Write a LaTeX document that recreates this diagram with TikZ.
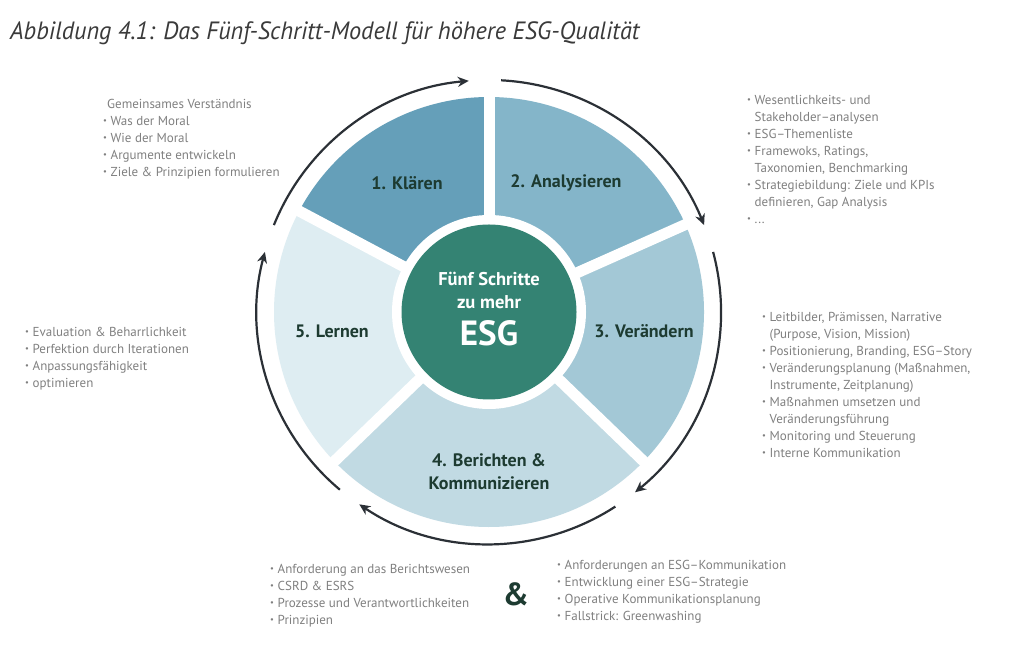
\documentclass[tikz,border=0pt]{standalone}
\usepackage{graphicx}
\usepackage{fontspec}
\setmainfont{PT Sans}
\usetikzlibrary{arrows.meta}
\definecolor{klcol}{HTML}{659FB9}
\definecolor{ancol}{HTML}{84B5C9}
\definecolor{vecol}{HTML}{A3C8D6}
\definecolor{becol}{HTML}{C1DAE3}
\definecolor{lecol}{HTML}{DEEDF2}
\definecolor{hubgreen}{HTML}{348373}
\definecolor{labelgreen}{HTML}{1D3B31}
\definecolor{listgray}{HTML}{808080}
\definecolor{titlegray}{HTML}{3A3A3A}
\definecolor{arrowdark}{HTML}{2B3036}
\newcommand\bpt{\makebox[7.5pt][l]{\fontsize{8.5}{8.5}\selectfont\raisebox{1.6pt}{•}}}
\newcommand\bin{\hspace*{7.5pt}}
\tikzset{
  listtext/.style={anchor=north west, inner sep=0pt, align=left, text=listgray, font=\fontsize{13}{17}\selectfont},
  steplabel/.style={inner sep=0pt, align=center, text=labelgreen, font=\bfseries\fontsize{18}{23}\selectfont},
  hubtext/.style={inner sep=0pt, text=white, font=\bfseries\fontsize{18.5}{20}\selectfont},
  ringarrow/.style={draw=arrowdark, line width=2.2pt, -{Stealth[length=11pt,width=10pt,inset=3.5pt]}},
  gapline/.style={draw=white, line width=11pt}
}
\begin{document}
\begin{tikzpicture}[x=1pt,y=1pt]
\fill[white] (0,0) rectangle (1024,655);
\useasboundingbox (0,0) rectangle (1024,655);
\node[anchor=base west, inner sep=0pt, text=titlegray, font=\itshape\fontsize{25}{30}\selectfont] (title) at (10,615) {\scalebox{0.97}[1]{Abbildung 4.1: Das Fünf-Schritt-Modell für höhere ESG-Qualität}};
\coordinate (hub) at (489,343);
\fill[klcol] (hub) -- ++(90:215pt) arc[start angle=90, end angle=152, radius=215pt] -- cycle;
\fill[ancol] (hub) -- ++(24:215pt) arc[start angle=24, end angle=90, radius=215pt] -- cycle;
\fill[vecol] (hub) -- ++(-44:215pt) arc[start angle=-44, end angle=24, radius=215pt] -- cycle;
\fill[becol] (hub) -- ++(-136:215pt) arc[start angle=-136, end angle=-44, radius=215pt] -- cycle;
\fill[lecol] (hub) -- ++(152:215pt) arc[start angle=152, end angle=224, radius=215pt] -- cycle;
\draw[gapline] (hub) -- ++(90:222pt);
\draw[gapline] (hub) -- ++(24:222pt);
\draw[gapline] (hub) -- ++(-44:222pt);
\draw[gapline] (hub) -- ++(-136:222pt);
\draw[gapline] (hub) -- ++(152:222pt);
\fill[white] (hub) circle[radius=97pt];
\fill[hubgreen] (hub) circle[radius=87.5pt];
\draw[ringarrow] (hub) ++(158:232pt) arc[start angle=158, end angle=95, radius=232pt];
\draw[ringarrow] (hub) ++(87:232pt) arc[start angle=87, end angle=22, radius=232pt];
\draw[ringarrow] (hub) ++(15:232pt) arc[start angle=15, end angle=-51, radius=232pt];
\draw[ringarrow] (hub) ++(-57:232pt) arc[start angle=-57, end angle=-124, radius=232pt];
\draw[ringarrow] (hub) ++(-130:232pt) arc[start angle=-130, end angle=-195, radius=232pt];
\node[steplabel] (klaeren) at (407,472) {1. Klären};
\node[steplabel] (analysieren) at (566,472) {2. Analysieren};
\node[steplabel] (veraendern) at (644,324) {3. Verändern};
\node[steplabel] (berichten) at (489,183.5) {4. Berichten \&\\Kommunizieren};
\node[steplabel] (lernen) at (332,324) {5. Lernen};
\node[hubtext] (hubfuenf) at (489,376) {Fünf Schritte};
\node[hubtext] (hubmehr) at (489,353) {zu mehr};
\node[hubtext, font=\bfseries\fontsize{35}{38}\selectfont] (hubesg) at (489,322) {ESG};
\node[listtext] (klaerenlist) at (103,556) {\hspace*{4pt}Gemeinsames Verständnis\\
\bpt Was der Moral\\
\bpt Wie der Moral\\
\bpt Argumente entwickeln\\
\bpt Ziele \& Prinzipien formulieren};
\node[listtext] (analysierenlist) at (747,560) {\bpt Wesentlichkeits- und\\
\bin Stakeholder–analysen\\
\bpt ESG–Themenliste\\
\bpt Framewoks, Ratings,\\
\bin Taxonomien, Benchmarking\\
\bpt Strategiebildung: Ziele und KPIs\\
\bin definieren, Gap Analysis\\
\bpt ...};
\node[listtext] (veraendernlist) at (762,343) {\bpt Leitbilder, Prämissen, Narrative\\
\bin (Purpose, Vision, Mission)\\
\bpt Positionierung, Branding, ESG–Story\\
\bpt Veränderungsplanung (Maßnahmen,\\
\bin Instrumente, Zeitplanung)\\
\bpt Maßnahmen umsetzen und\\
\bin Veränderungsführung\\
\bpt Monitoring und Steuerung\\
\bpt Interne Kommunikation};
\node[listtext] (lernenlist) at (25,328) {\bpt Evaluation \& Beharrlichkeit\\
\bpt Perfektion durch Iterationen\\
\bpt Anpassungsfähigkeit\\
\bpt optimieren};
\node[listtext] (berichtenlist) at (270,91) {\bpt Anforderung an das Berichtswesen\\
\bpt CSRD \& ESRS\\
\bpt Prozesse und Verantwortlichkeiten\\
\bpt Prinzipien};
\node[text=labelgreen, inner sep=0pt, font=\bfseries\fontsize{32}{34}\selectfont] (und) at (516,61) {\&};
\node[listtext] (kommlist) at (557,95) {\bpt Anforderungen an ESG–Kommunikation\\
\bpt Entwicklung einer ESG–Strategie\\
\bpt Operative Kommunikationsplanung\\
\bpt Fallstrick: Greenwashing};
\end{tikzpicture}
\end{document}
